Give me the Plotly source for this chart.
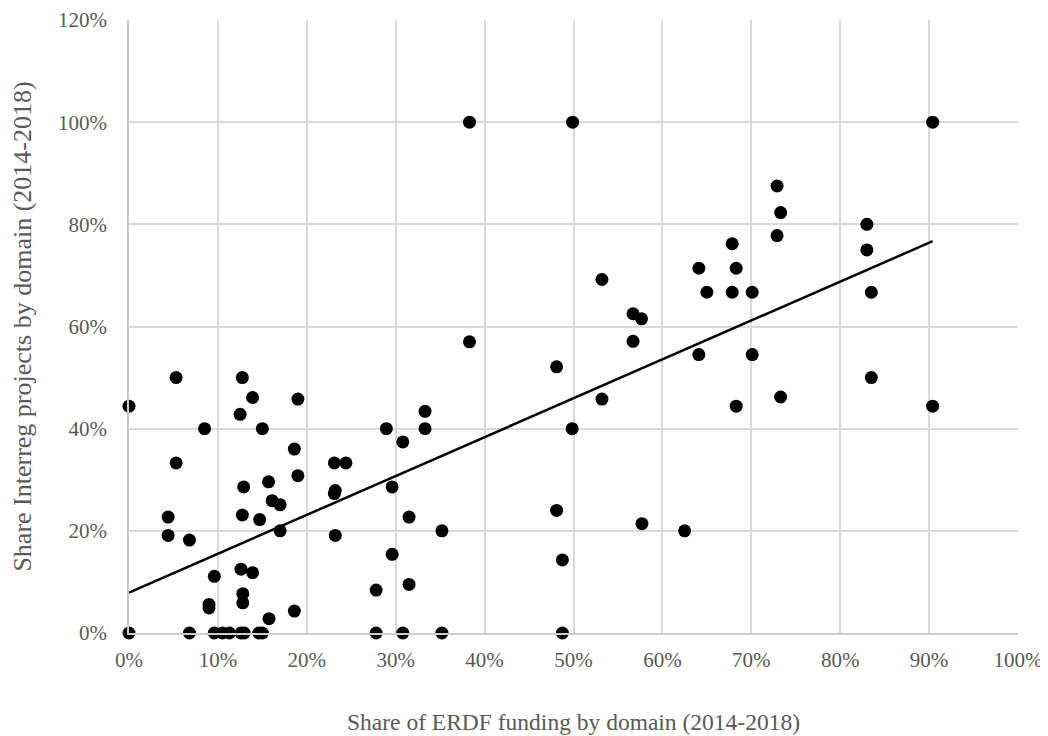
import numpy as np
import plotly.graph_objects as go

# Share of ERDF funding by domain (x) and share of Interreg projects by domain (y), in %
erdf_share = [
    0, 6.8, 9.6, 10.5, 11.3, 12.6, 12.95, 14.6, 15.0, 27.8, 30.8, 35.2, 48.75,
    0, 5.3, 12.75, 13.9, 19.0, 12.5, 8.5, 15.0, 18.6, 5.3, 23.1, 24.4, 19.0,
    12.9, 15.7, 16.1, 17.0, 23.2, 23.1, 4.4, 12.75, 14.7, 17.0, 4.4, 6.8, 23.2,
    9.6, 12.6, 13.9, 12.8, 12.8, 9.0, 9.0, 15.75, 18.6,
    38.3, 33.3, 28.95, 33.3, 30.8, 29.6, 31.5, 35.2, 29.6, 31.5, 27.8,
    38.3, 49.9, 90.4, 67.85, 64.1, 68.3, 65.0, 67.85, 70.1, 53.2, 56.7, 57.65,
    56.7, 64.1, 70.1, 48.1, 72.9, 73.3, 72.9, 83.0, 83.0, 83.5, 83.5, 68.3,
    73.3, 90.4, 53.2, 49.85, 48.1, 57.7, 62.5, 48.75,
]
interreg_share = [
    0, 0, 0, 0, 0, 0, 0, 0, 0, 0, 0, 0, 0,
    44.4, 50, 50, 46.1, 45.8, 42.8, 40, 40, 36.0, 33.3, 33.3, 33.3, 30.8,
    28.6, 29.6, 25.9, 25.1, 27.9, 27.3, 22.7, 23.1, 22.2, 20.0, 19.1, 18.2, 19.1,
    11.1, 12.5, 11.8, 7.7, 5.9, 5.6, 4.9, 2.8, 4.3,
    57.0, 43.4, 40, 40, 37.4, 28.6, 22.7, 20, 15.4, 9.5, 8.4,
    100, 100, 100, 76.2, 71.4, 71.4, 66.7, 66.7, 66.7, 69.2, 62.5, 61.5,
    57.1, 54.5, 54.5, 52.1, 87.5, 82.3, 77.8, 80, 75, 66.7, 50, 44.4,
    46.2, 44.4, 45.8, 40, 24, 21.4, 20, 14.3,
]

# Linear trendline as shown in the reference
trend_intercept = 0.079
trend_slope = 0.761

x_title = "Share of ERDF funding by domain (2014-2018)"
y_title = "Share Interreg projects by domain (2014-2018)"

x = np.array(erdf_share) / 100.0
y = np.array(interreg_share) / 100.0

trend_x = np.array([x.min(), x.max()])
trend_y = trend_slope * trend_x + trend_intercept

font_family = "Liberation Serif, Times New Roman, serif"
text_color = "#595959"
grid_color = "#d9d9d9"

fig = go.Figure()
fig.add_trace(go.Scatter(
    x=x, y=y, mode="markers",
    marker=dict(size=13, color="black", line=dict(width=0)),
    cliponaxis=False, showlegend=False, hoverinfo="x+y",
))
fig.add_trace(go.Scatter(
    x=trend_x, y=trend_y, mode="lines",
    line=dict(color="black", width=2.5),
    showlegend=False, hoverinfo="skip",
))

fig.update_layout(
    width=1048, height=736,
    margin=dict(l=121, r=38, t=12, b=111, autoexpand=False),
    paper_bgcolor="white", plot_bgcolor="white",
    font=dict(family=font_family, color=text_color, size=21),
)
fig.update_xaxes(
    range=[0, 1.0], dtick=0.1, tick0=0, tickformat=".0%",
    showgrid=True, gridcolor=grid_color, gridwidth=1.5,
    showline=True, linecolor="#cccccc", linewidth=1.5, mirror=False,
    zeroline=False, ticks="", ticklabelstandoff=7,
    tickfont=dict(size=21, color=text_color, family=font_family),
    title=dict(text=x_title, standoff=43,
               font=dict(size=23.5, color=text_color, family=font_family)),
    automargin=False,
)
fig.update_yaxes(
    range=[0, 1.2], dtick=0.2, tick0=0, tickformat=".0%",
    showgrid=True, gridcolor=grid_color, gridwidth=1.5,
    showline=True, linecolor="#cccccc", linewidth=1.5,
    zeroline=False, ticks="", ticklabelstandoff=16,
    tickfont=dict(size=21, color=text_color, family=font_family),
    title=dict(text=y_title, standoff=22,
               font=dict(size=26, color=text_color, family=font_family)),
    automargin=False,
)

fig.write_html("out.html")
